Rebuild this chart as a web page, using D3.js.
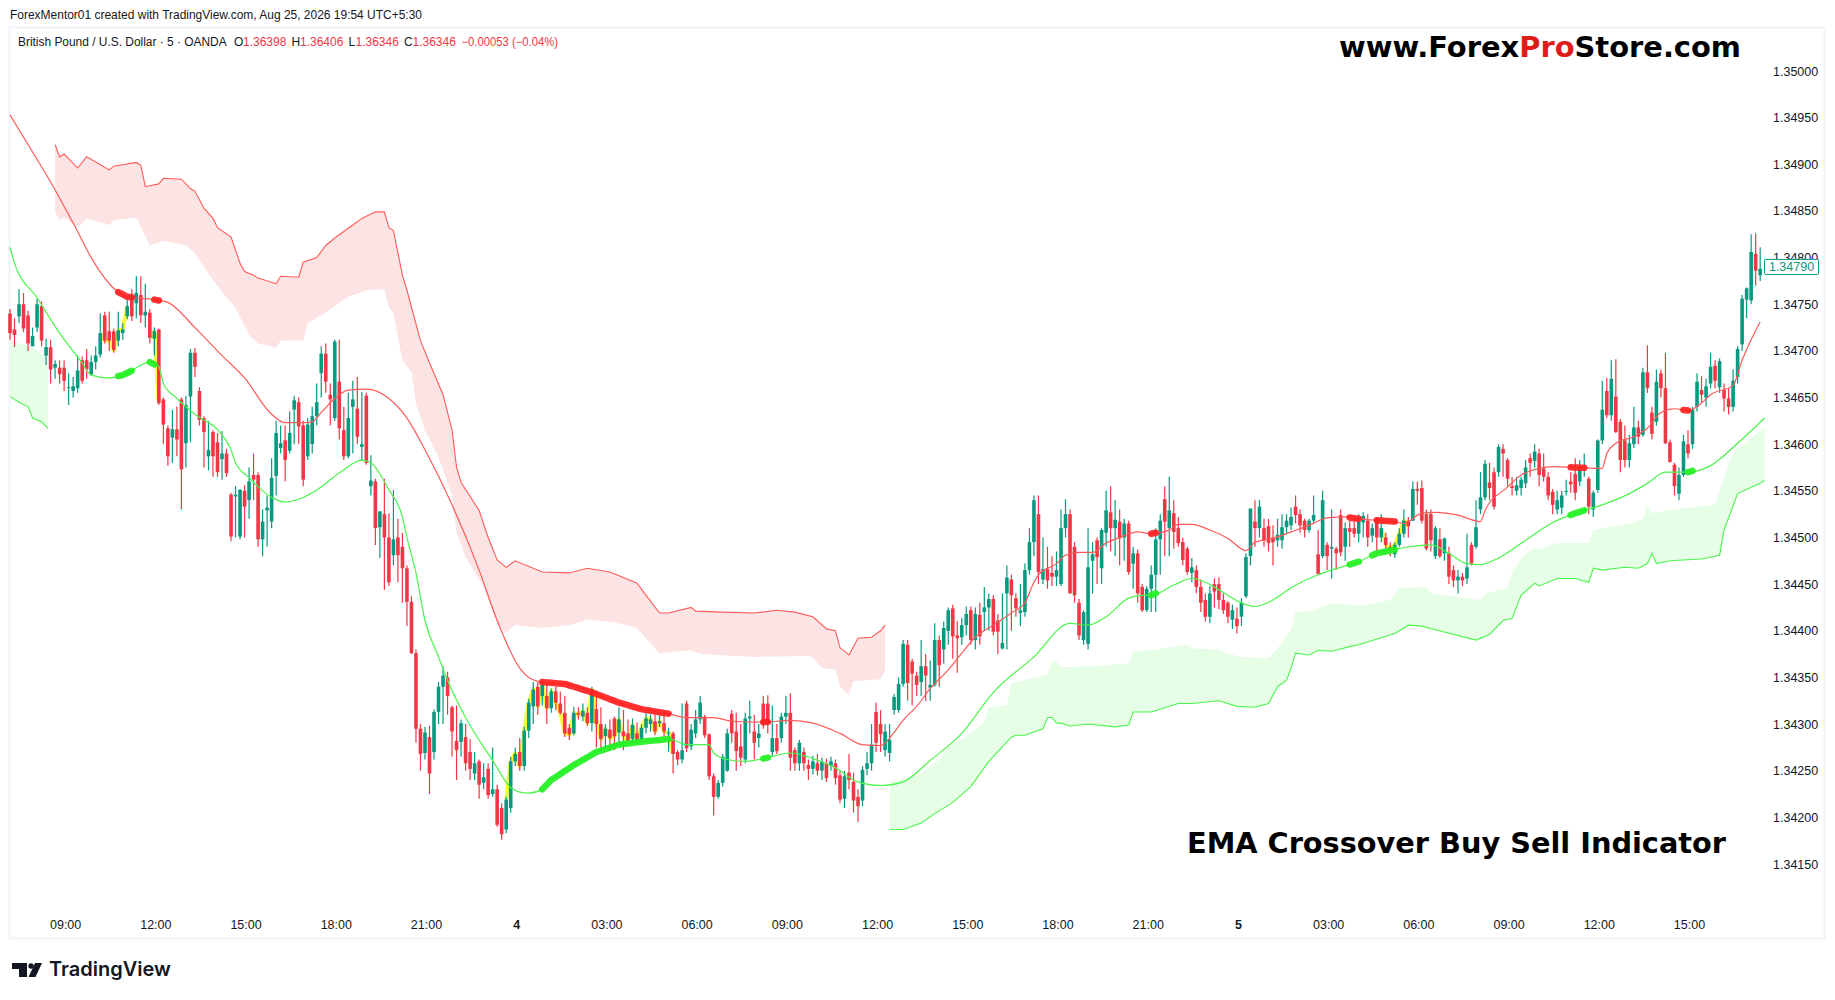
<!DOCTYPE html>
<html>
<head>
<meta charset="utf-8">
<title>GBPUSD EMA Crossover</title>
<script src="https://d3js.org/d3.v7.min.js"></script>
<style>
  body { margin: 0; background: #fff; }
  svg { display: block; }
  text { font-family: "Liberation Sans", Arial, sans-serif; }
</style>
</head>
<body>
<svg id="chart" width="1835" height="1000"></svg>
<script>
// prices are in points above 1.34000 (712 = 1.34712), bars are 9 minutes apart on the picture's spacing
const barMinutes = 9, firstBarMinute = -110; // minutes from the first 09:00 label

const opens = [
740,723,737,750,738,705,725,748,695,704,682,682,682,660,657,660,690,690,675,688,
696,738,721,721,711,719,737,758,751,760,738,741,713,723,648,617,607,616,648,601,
651,698,657,628,587,613,602,584,590,546,544,501,550,540,567,567,498,529,517,566,
596,604,593,637,645,620,587,600,630,676,697,653,628,667,615,587,640,638,597,652,
555,560,511,525,500,481,500,490,467,431,376,295,269,286,270,313,340,350,318,282,
281,286,270,247,260,237,252,225,230,210,187,210,260,270,255,293,319,340,330,330,
317,335,322,312,296,290,312,308,312,301,316,300,287,294,306,291,292,290,284,290,
283,296,300,303,301,301,290,290,270,262,322,276,290,305,308,289,244,222,237,250,
311,292,276,262,306,292,285,322,322,270,285,285,308,312,272,258,270,256,252,258,
250,258,255,258,245,220,248,238,222,218,252,258,313,300,272,269,315,315,343,385,
367,352,345,362,339,342,390,380,400,424,395,393,406,422,390,417,420,425,434,411,
381,440,455,435,419,420,465,495,525,455,466,462,458,450,510,525,490,430,390,386,
475,497,467,505,527,510,517,500,515,472,483,447,422,445,460,498,541,510,526,510,
495,488,462,465,447,433,415,450,450,433,430,412,413,415,437,480,517,510,510,512,
500,497,497,511,513,533,525,518,508,518,482,480,492,488,488,524,490,510,510,504,
516,518,502,520,500,500,490,482,492,504,518,518,552,553,525,525,480,498,483,483,
465,454,458,456,492,490,530,543,559,570,570,595,583,555,550,553,558,585,582,590,
574,565,549,530,532,550,560,568,560,575,563,530,551,604,657,631,651,624,604,
583,600,618,610,677,634,624,676,660,602,578,547,567,600,600,640,658,650,665,684,
661,658,649,640,672,707,755,754,804,781];
const closes = [
719,717,750,724,708,716,750,711,704,680,686,675,668,661,662,679,668,680,688,695,
719,711,711,701,722,723,748,737,762,738,742,714,721,644,621,587,616,605,573,642,
698,683,626,613,594,587,570,590,569,501,546,551,533,560,562,498,517,532,564,612,
601,583,612,647,619,562,621,630,645,697,667,648,710,617,587,628,648,608,600,580,
561,510,528,500,452,498,481,467,431,376,295,268,291,247,313,340,352,330,292,272,
301,258,252,258,235,243,224,230,192,182,219,260,268,255,293,323,337,319,342,317,
335,323,312,290,289,312,310,314,301,337,300,284,295,285,287,305,287,282,299,283,
296,306,305,292,303,292,291,268,262,272,274,294,305,323,288,244,222,237,265,290,
290,271,264,306,308,280,290,301,301,285,271,308,312,264,258,280,258,252,260,250,
260,242,260,242,219,244,240,218,212,251,258,278,280,289,292,283,329,343,386,344,
354,342,362,352,342,390,363,403,422,394,392,406,418,390,418,394,425,434,399,399,
387,457,438,424,422,465,495,540,463,466,454,458,465,510,525,440,438,395,420,468,
482,479,508,529,510,519,499,515,463,483,440,422,445,460,498,518,517,529,506,494,
476,463,468,447,430,415,440,442,433,422,415,422,405,430,479,531,510,533,497,494,
495,503,511,518,522,524,513,508,518,524,461,540,480,490,483,484,510,506,504,517,
523,500,510,500,510,492,488,492,504,518,512,552,550,518,488,497,510,480,499,458,
454,458,454,468,472,511,543,579,553,533,597,590,563,553,556,562,575,580,592,567,
565,545,535,540,545,550,557,548,575,575,533,548,604,637,631,670,613,583,583,
601,618,608,677,660,611,667,660,601,581,555,567,603,590,637,667,653,662,683,668,
689,649,640,668,702,756,767,806,786,788];
const highs = [
745,735,766,762,743,725,756,753,713,712,690,690,690,676,672,695,694,702,695,705,
740,742,742,724,742,730,755,766,780,780,772,745,725,724,650,620,637,640,650,652,
702,703,661,630,625,615,612,614,595,548,555,552,556,575,590,570,530,545,585,625,
620,620,635,652,650,625,628,640,665,705,708,665,712,712,640,655,668,672,656,655,
588,563,528,563,526,551,520,505,470,437,380,300,297,298,316,345,362,356,320,320,
305,300,284,270,262,258,258,275,235,215,222,265,275,285,297,327,345,345,346,345,
338,340,335,330,300,318,318,322,318,340,335,318,300,305,308,318,315,305,306,302,
300,312,310,310,310,310,296,292,272,322,325,300,315,330,310,290,247,240,268,295,
315,312,300,312,325,310,300,330,331,320,300,312,330,333,275,283,275,262,266,268,
264,263,265,262,250,250,268,248,230,255,270,300,323,315,300,300,332,350,390,390,
370,356,390,375,368,408,395,410,425,428,410,414,426,426,425,430,447,440,438,418,
440,470,460,440,450,472,510,545,545,500,490,480,485,530,541,530,495,434,422,510,
495,500,510,550,555,540,530,520,518,490,487,450,448,470,510,525,555,565,540,522,
500,490,478,470,455,440,448,456,457,440,432,428,425,435,483,531,540,540,520,520,
513,520,525,525,532,545,530,520,520,545,508,550,495,530,490,530,516,518,517,525,
527,525,515,522,525,505,495,495,510,530,522,560,560,561,530,530,512,510,500,490,
470,465,462,504,495,540,570,583,580,575,600,600,585,565,565,565,583,590,600,595,
590,570,552,550,550,562,570,585,583,590,565,550,605,668,671,690,691,627,620,
610,640,625,682,706,640,680,680,698,605,580,575,610,615,640,676,673,670,698,690,
692,665,660,680,705,760,768,825,826,811];
const lows = [
712,704,730,720,700,705,720,705,685,665,670,665,657,642,650,655,665,670,673,680,
693,708,700,698,705,712,734,732,735,730,725,708,695,642,600,577,580,587,530,575,
602,672,620,575,572,565,565,562,565,496,500,498,500,520,540,490,480,490,510,545,
590,560,590,600,600,555,583,590,620,650,655,620,625,605,583,585,590,600,582,578,
545,492,478,444,448,470,452,430,405,375,280,250,262,225,262,300,300,310,265,240,
265,250,240,240,220,230,220,222,190,176,183,205,255,250,250,285,300,310,320,300,
312,315,310,286,283,288,305,303,298,292,275,272,275,272,272,280,272,278,280,280,
280,290,292,288,297,286,270,247,256,258,270,272,285,300,285,240,202,220,233,249,
280,250,255,258,290,262,275,295,290,265,268,280,300,250,250,250,250,240,246,245,
240,238,250,235,215,210,230,205,195,212,245,250,270,270,265,260,310,312,340,325,
320,330,330,325,325,340,340,365,385,370,355,385,395,385,380,385,400,400,395,375,
380,380,400,415,405,415,460,480,450,450,445,448,448,448,500,440,430,390,385,380,
440,450,450,490,485,480,470,475,460,445,430,420,420,420,420,460,480,480,488,490,
470,460,452,440,420,410,408,425,423,418,408,402,397,405,435,470,490,500,490,485,
470,490,488,505,508,515,505,500,505,515,460,478,465,456,465,480,475,490,500,495,
500,490,495,483,495,488,480,478,490,500,500,518,535,515,486,485,477,478,475,450,
447,440,448,450,470,488,525,540,540,530,565,565,555,545,545,545,553,565,575,555,
560,540,525,525,525,545,548,540,555,565,525,522,548,600,628,625,612,570,575,
575,596,600,608,655,605,620,650,600,580,545,540,565,585,595,635,645,640,660,660,
655,635,632,635,665,700,735,750,770,775];

// slow EMA, red, read at these bars
const redEmaBars = [0,3,9,14,19,24,26,32,35,41,47,52,58,61,64,67,69,72,75,79,84,88,92,98,104,108,113,115,118,123,129,135,140,146,150,156,160,167,173,178,184,189,193,196,198,201,204,208,211,214,218,222,225,227,228,232,234,237,240,243,246,250,253,257,259,262,266,270,274,276,280,284,288,292,296,299,307,309,313,316,321,326,327,332,335,339,342,347,353,354,356,360,363,366,369,372,375,377,382,384,386,388];
const redEmaVals = [953,929,881,837,792,763,758,755,752,725,695,671,632,623,623,624,634,649,658,659,649,628,594,535,465,411,360,350,345,343,334,323,316,311,307,307,303,302,304,301,290,278,277,291,304,319,338,358,376,393,406,419,430,452,460,472,481,484,484,494,500,506,504,508,514,514,508,499,486,495,499,506,513,521,522,520,517,515,526,527,524,517,529,554,567,574,576,575,574,590,601,608,617,634,638,636,644,653,663,690,712,731];
const greenEmaBars = [0,1,6,11,16,18,22,25,31,33,34,37,41,47,49,50,53,58,61,64,68,73,78,80,84,87,88,90,92,95,97,101,107,111,113,115,118,120,125,130,135,140,146,150,155,156,159,163,167,173,178,183,188,193,198,204,211,218,227,235,239,243,248,251,253,258,262,265,269,273,276,280,284,290,295,299,303,309,315,319,323,326,330,336,342,347,353,359,363,367,372,377,383,389];
const greenEmaVals = [811,794,757,719,687,674,671,674,688,683,665,649,632,610,594,580,564,543,538,541,551,569,583,580,551,522,500,462,411,372,347,307,261,232,227,226,230,240,256,270,278,281,284,278,278,269,262,260,263,269,263,253,238,234,238,261,290,334,372,408,406,415,435,438,438,449,456,452,441,430,426,433,446,460,468,474,483,489,492,483,472,471,478,497,516,526,535,547,558,570,570,577,601,628];

// red cloud
const redTopBars = [10,11,12,15,17,22,23,28,29,30,33,34,38,40,41,43,45,46,49,51,52,54,55,59,60,64,65,68,70,72,76,78,81,83,84,85,86,87,88,91,93,96,98,99,100,104,106,108,110,112,118,124,128,133,139,141,144,146,151,152,158,165,170,174,178,181,183,184,186,188,191,193,194];
const redTopVals = [921,908,911,896,908,894,898,902,899,876,879,885,884,874,871,853,842,832,822,794,785,781,778,772,780,779,795,800,813,821,835,842,849,849,832,829,805,781,765,711,687,653,615,575,559,529,500,476,468,475,463,462,467,463,451,438,419,419,425,421,420,419,422,420,415,402,400,382,374,392,393,400,406];
const redBottomBars = [10,11,12,15,17,22,23,28,31,34,39,41,43,45,47,50,53,55,59,60,65,66,69,75,79,83,84,85,87,89,90,92,95,98,99,101,105,108,110,112,118,124,128,134,139,141,144,151,153,165,177,178,180,183,184,186,187,193,194];
const redBottomVals = [849,840,843,832,842,835,840,843,813,818,813,805,790,776,763,746,717,708,703,711,711,730,738,758,765,766,747,740,690,677,644,615,586,545,505,479,447,408,398,406,403,406,412,409,403,392,376,379,375,372,373,371,360,358,340,331,346,348,358];

// green cloud, short piece on the left and the long one on the right
const greenLeftBars = [0,5,8.4];
const greenLeftVals = [711,704,692];
const greenLeftLowBars = [0,2,4,5,7,8.4];
const greenLeftLowVals = [651,645,640,628,624,617];
const greenTopBars = [195,201,206,208,213,216,217,221,222,230,231,232,233,240,248,249,253,261,262,268,269,273,279,281,282,284,285,288,293,300,306,308,314,315,326,327,332,333,335,338,339,343,350,351,359,362,363,364,369,378,380,382,389];
const greenTopVals = [238,245,261,275,290,302,317,321,344,353,367,367,361,362,365,378,379,385,381,380,377,372,371,381,388,401,420,421,429,427,433,446,447,440,433,440,446,462,478,489,487,494,494,508,515,520,535,526,530,535,564,591,618];
const greenBottomBars = [195,198,202,205,209,213,217,222,223,225,229,230,231,232,233,235,239,245,248,249,253,259,262,268,272,276,279,281,283,284,285,288,290,293,297,299,307,310,313,316,325,328,331,333,335,338,339,343,347,350,351,353,358,361,363,364,365,368,375,379,380,383,388,389];
const greenBottomVals = [187,187,194,204,216,233,260,286,288,288,295,307,307,301,301,298,300,297,299,313,313,322,322,325,319,318,322,340,347,360,376,374,379,378,383,385,397,406,405,401,390,396,411,413,438,451,448,456,456,452,467,465,468,467,472,483,472,475,477,481,508,547,558,561];

// where the EMAs are drawn thick, [from bar, to bar]
const redThick = [[24,27],[32,33],[118,146],[167,168],[253,254],[297,299],[303,307],[346,349],[371,372]];
const greenThick = [[24,27],[31,32],[118,146],[167,168],[253,254],[297,299],[302,307],[346,349],[372,373]];
// yellow highlight behind the candles
const yellowRanges = [[20,26],[31,33],[110,147],[304,310]];

const priceTicks = [1.35,1.3495,1.349,1.3485,1.348,1.3475,1.347,1.3465,1.346,1.3455,1.345,1.3445,1.344,1.3435,1.343,1.3425,1.342,1.3415];
const timeTickMinutes = [0,180,360,540,720,900,1080,1260,1440,1620,1800,1980,2160,2340,2520,2700,2880,3060,3240];
const timeTickLabels = ["09:00","12:00","15:00","18:00","21:00","4","03:00","06:00","09:00","12:00","15:00","18:00","21:00","5","03:00","06:00","09:00","12:00","15:00"];
const lastPrice = 1.3479;

const svg = d3.select("#chart");
const upColor = "#089981", downColor = "#f23645";
const redLine = "#ff5a5a", greenLine = "#4cf54c";

var xTime = d3.scaleLinear().domain([-110, 3240]).range([10, 1689]);
var y = d3.scaleLinear().domain([1.35, 1.3415]).range([71, 864]);
const barTime = i => firstBarMinute + barMinutes * i;
const px = i => xTime(barTime(i));
const py = p => y(1.34 + p / 1e5);

// frame
svg.append("rect").attr("x", 9.5).attr("y", 27.5).attr("width", 1815).attr("height", 911)
    .attr("fill", "#fff").attr("stroke", "#f0f3fa").attr("stroke-width", 2);

function pts(bars, vals) { return bars.map((b, i) => [px(b), py(vals[i])]); }
const straight = d3.line();
const smooth = d3.line().curve(d3.curveMonotoneX);

function cloud(topB, topV, botB, botV, fill) {
    const poly = pts(topB, topV).concat(pts(botB, botV).reverse());
    svg.append("path").attr("d", straight(poly) + "Z").attr("fill", fill);
}
cloud(redTopBars, redTopVals, redBottomBars, redBottomVals, "#fde4e4");
cloud(greenLeftBars, greenLeftVals, greenLeftLowBars, greenLeftLowVals, "#e6fde6");
cloud(greenTopBars, greenTopVals, greenBottomBars, greenBottomVals, "#e6fde6");

// outer edges of the clouds
function edge(bars, vals, color) {
    svg.append("path").attr("d", straight(pts(bars, vals))).attr("fill", "none")
        .attr("stroke", color).attr("stroke-width", 1.1);
}
edge(redTopBars, redTopVals, redLine);
edge(greenLeftLowBars, greenLeftLowVals, greenLine);
edge(greenBottomBars, greenBottomVals, greenLine);

// yellow behind candles
yellowRanges.forEach(r => {
    const idx = d3.range(r[0], r[1] + 1);
    svg.append("path").attr("d", straight(idx.map(i => [px(i), py(closes[i])])))
        .attr("fill", "none").attr("stroke", "#fbfb3c").attr("stroke-width", 4).attr("stroke-linejoin", "round");
});

// candles
const candles = svg.append("g").selectAll("g").data(d3.range(opens.length)).enter().append("g");
candles.append("line")
    .attr("x1", i => px(i)).attr("x2", i => px(i))
    .attr("y1", i => py(highs[i])).attr("y2", i => py(lows[i]))
    .attr("stroke", i => closes[i] >= opens[i] ? upColor : downColor).attr("stroke-width", 1.2);
candles.append("rect")
    .attr("x", i => px(i) - 1.8).attr("width", 3.6)
    .attr("y", i => py(Math.max(opens[i], closes[i])))
    .attr("height", i => Math.max(1, Math.abs(py(opens[i]) - py(closes[i]))))
    .attr("fill", i => closes[i] >= opens[i] ? upColor : downColor);

// EMAs
function ema(bars, vals, color) {
    svg.append("path").attr("d", smooth(pts(bars, vals))).attr("fill", "none")
        .attr("stroke", color).attr("stroke-width", 1.2);
}
ema(redEmaBars, redEmaVals, redLine);
ema(greenEmaBars, greenEmaVals, greenLine);

function thick(ranges, bars, vals, color) {
    const at = d3.scaleLinear().domain(bars).range(vals);
    ranges.forEach(r => {
        const idx = d3.range(r[0], r[1] + 1);
        svg.append("path").attr("d", smooth(idx.map(i => [px(i), py(at(i))])))
            .attr("fill", "none").attr("stroke", color).attr("stroke-width", 6.5)
            .attr("stroke-linecap", "round").attr("stroke-opacity", 0.92);
    });
}
thick(redThick, redEmaBars, redEmaVals, "#ff2020");
thick(greenThick, greenEmaBars, greenEmaVals, "#22f022");

// axes
const yAxis = d3.axisRight(y).tickValues(priceTicks).tickSize(0).tickPadding(0).tickFormat(d3.format(".5f"));
const gy = svg.append("g").attr("transform", "translate(1773,0)").call(yAxis);
gy.select(".domain").remove();
gy.selectAll("text").attr("font-size", 12.5).attr("fill", "#131722")
    .style("font-family", "'Liberation Sans', Arial, sans-serif");

const xAxis = d3.axisBottom(xTime).tickValues(timeTickMinutes).tickSize(0).tickPadding(0)
    .tickFormat((d, i) => timeTickLabels[i]);
const gx = svg.append("g").attr("transform", "translate(0,920)").call(xAxis);
gx.select(".domain").remove();
gx.selectAll("text").attr("font-size", 12.5).attr("fill", "#131722")
    .attr("font-weight", (d, i) => timeTickLabels[i].length === 1 ? "bold" : "normal")
    .style("font-family", "'Liberation Sans', Arial, sans-serif");

// last price tag
svg.append("rect").attr("x", 1764.5).attr("y", y(lastPrice) - 7.5).attr("width", 54).attr("height", 15)
    .attr("fill", "#fff").attr("stroke", upColor).attr("stroke-width", 1).attr("rx", 1);
svg.append("text").attr("x", 1791.5).attr("y", y(lastPrice) + 4.5).attr("text-anchor", "middle")
    .attr("font-size", 12.5).attr("fill", upColor).text(d3.format(".5f")(lastPrice));

// header and legend
svg.append("text").attr("x", 10).attr("y", 19).attr("font-size", 12).attr("fill", "#131722")
    .attr("textLength", 412).attr("lengthAdjust", "spacingAndGlyphs")
    .text("ForexMentor01 created with TradingView.com, Aug 25, 2026 19:54 UTC+5:30");

const legendParts = [
    ["British Pound / U.S. Dollar · 5 · OANDA", 18, 208.6, "#131722"],
    ["O", 234, 0, "#131722"], ["1.36398", 243, 0, downColor],
    ["H", 291.4, 0, "#131722"], ["1.36406", 300, 0, downColor],
    ["L", 348.6, 0, "#131722"], ["1.36346", 355.5, 0, downColor],
    ["C", 404, 0, "#131722"], ["1.36346", 412.5, 0, downColor],
    ["−0.00053 (−0.04%)", 461.4, 96.6, downColor]
];
legendParts.forEach(p => {
    const t = svg.append("text").attr("x", p[1]).attr("y", 46).attr("font-size", 12).attr("fill", p[3]).text(p[0]);
    if (p[2]) t.attr("textLength", p[2]).attr("lengthAdjust", "spacingAndGlyphs");
});

// watermark texts
const site = svg.append("text").attr("x", 1339).attr("y", 57).attr("font-size", 29).attr("font-weight", "bold")
    .attr("fill", "#000").style("font-family", "'DejaVu Sans', sans-serif")
    .attr("textLength", 402).attr("lengthAdjust", "spacingAndGlyphs");
site.append("tspan").text("www.Forex");
site.append("tspan").attr("fill", "#e01b1b").text("Pro");
site.append("tspan").text("Store.com");

svg.append("text").attr("x", 1187).attr("y", 853).attr("font-size", 29).attr("font-weight", "bold")
    .attr("fill", "#000").style("font-family", "'DejaVu Sans', sans-serif")
    .attr("textLength", 539).attr("lengthAdjust", "spacingAndGlyphs")
    .text("EMA Crossover Buy Sell Indicator");

// TradingView logo
const logo = svg.append("g").attr("fill", "#131722");
logo.append("path").attr("d", "M12 963H27V977H19V969H12Z");
logo.append("circle").attr("cx", 31).attr("cy", 966).attr("r", 2.7);
logo.append("path").attr("d", "M35 963H42L35.5 977H28.5Z");
svg.append("text").attr("x", 49).attr("y", 976).attr("font-size", 20).attr("font-weight", 600)
    .attr("fill", "#131722").style("font-family", "Inter, sans-serif").text("TradingView");
</script>
</body>
</html>
